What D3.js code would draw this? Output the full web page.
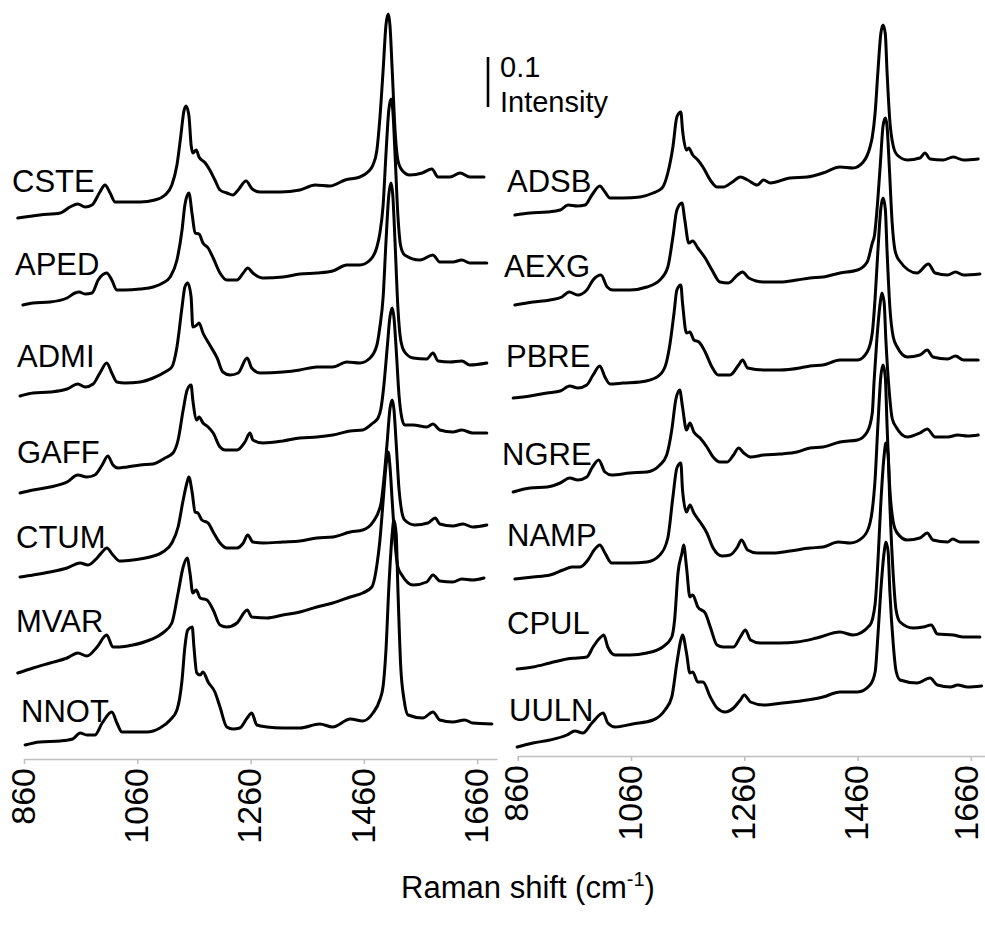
<!DOCTYPE html>
<html><head><meta charset="utf-8">
<script src="https://cdn.jsdelivr.net/npm/d3@7"></script>
<style>html,body{margin:0;padding:0;background:#fff;} svg{display:block;}</style>
</head><body><svg id="chart" width="985" height="932"></svg>
<script>
// ---------------- DATA ----------------
const wavenumberTicks = [860, 1060, 1260, 1460, 1660];
const leftNames  = ["CSTE","APED","ADMI","GAFF","CTUM","MVAR","NNOT"];
const rightNames = ["ADSB","AEXG","PBRE","NGRE","NAMP","CPUL","UULN"];
// vertical stacking offsets (intensity units)
const leftOffsets  = [1.082, 0.908, 0.726, 0.532, 0.364, 0.172, 0.028];
const rightOffsets = [1.088, 0.908, 0.722, 0.534, 0.360, 0.180, 0.024];
const scaleBarValue = 0.1;

// spectra: [Raman shift (cm-1), relative intensity]
const CSTE = [[849,0],[888,.006],[924,.010],[941,.022],[955,.028],[968,.022],[980,.026],[994,.052],[1003,.066],[1012,.050],[1021,.032],[1038,.032],[1065,.032],[1091,.036],[1109,.046],[1121,.066],[1130,.106],[1137,.166],[1142,.212],[1146,.224],[1151,.206],[1155,.146],[1158,.130],[1164,.136],[1169,.122],[1180,.110],[1188,.096],[1197,.076],[1206,.056],[1218,.050],[1229,.046],[1238,.056],[1252,.074],[1263,.058],[1277,.052],[1312,.052],[1347,.056],[1374,.066],[1400,.064],[1427,.076],[1453,.082],[1467,.092],[1476,.106],[1483,.136],[1488,.196],[1494,.296],[1499,.386],[1503,.408],[1506,.386],[1510,.296],[1515,.176],[1520,.116],[1527,.096],[1541,.086],[1563,.090],[1580,.098],[1591,.082],[1612,.082],[1630,.090],[1647,.082],[1672,.082]];
const APED = [[858,0],[876,.004],[906,.006],[936,.014],[950,.024],[957,.026],[968,.022],[980,.024],[991,.050],[1006,.064],[1015,.050],[1024,.030],[1038,.030],[1065,.032],[1088,.036],[1105,.044],[1118,.056],[1130,.090],[1139,.150],[1144,.200],[1151,.224],[1157,.180],[1162,.144],[1169,.142],[1176,.124],[1185,.114],[1194,.094],[1206,.064],[1218,.050],[1236,.050],[1247,.064],[1255,.074],[1264,.064],[1282,.054],[1317,.056],[1347,.062],[1377,.064],[1405,.068],[1430,.080],[1453,.080],[1471,.090],[1483,.116],[1488,.142],[1494,.200],[1499,.302],[1504,.390],[1508,.412],[1511,.390],[1515,.302],[1520,.180],[1525,.118],[1532,.100],[1559,.090],[1582,.100],[1594,.086],[1617,.086],[1633,.090],[1647,.084],[1677,.084]];
const ADMI = [[853,0],[876,.006],[906,.008],[936,.014],[955,.024],[968,.018],[982,.024],[994,.046],[1006,.066],[1015,.046],[1024,.028],[1038,.026],[1065,.028],[1088,.036],[1109,.048],[1121,.058],[1130,.098],[1139,.178],[1144,.218],[1149,.226],[1155,.198],[1158,.138],[1165,.142],[1169,.146],[1176,.126],[1188,.102],[1201,.076],[1211,.048],[1224,.042],[1238,.046],[1254,.076],[1262,.056],[1277,.046],[1317,.048],[1347,.052],[1377,.058],[1405,.058],[1430,.068],[1453,.066],[1471,.076],[1483,.102],[1488,.136],[1494,.198],[1499,.308],[1504,.402],[1508,.426],[1511,.402],[1515,.308],[1520,.178],[1525,.112],[1532,.088],[1547,.076],[1571,.074],[1582,.086],[1591,.070],[1612,.068],[1633,.070],[1647,.062],[1677,.066]];
const GAFF = [[853,0],[876,.006],[906,.012],[936,.022],[955,.036],[971,.032],[985,.036],[998,.056],[1008,.074],[1017,.056],[1026,.050],[1042,.052],[1065,.056],[1088,.058],[1109,.070],[1123,.080],[1132,.106],[1141,.166],[1148,.206],[1155,.216],[1158,.186],[1165,.146],[1169,.152],[1176,.140],[1185,.132],[1194,.120],[1206,.092],[1215,.086],[1236,.086],[1250,.102],[1259,.120],[1264,.106],[1282,.100],[1317,.104],[1347,.110],[1377,.112],[1405,.116],[1436,.124],[1458,.126],[1476,.140],[1485,.150],[1490,.168],[1495,.212],[1501,.288],[1506,.352],[1510,.370],[1513,.352],[1517,.288],[1522,.196],[1527,.150],[1532,.136],[1547,.136],[1571,.132],[1582,.138],[1594,.126],[1617,.122],[1633,.126],[1652,.120],[1677,.120]];
const CTUM = [[853,0],[876,.004],[906,.010],[936,.018],[959,.028],[973,.024],[989,.038],[998,.050],[1006,.058],[1017,.044],[1029,.032],[1052,.034],[1082,.040],[1105,.050],[1121,.068],[1132,.100],[1141,.154],[1148,.190],[1151,.200],[1157,.168],[1162,.130],[1167,.128],[1174,.114],[1185,.108],[1194,.090],[1206,.068],[1218,.058],[1236,.058],[1247,.068],[1255,.084],[1264,.070],[1282,.068],[1317,.070],[1347,.072],[1377,.078],[1405,.080],[1436,.090],[1458,.094],[1476,.110],[1490,.146],[1495,.192],[1501,.268],[1506,.336],[1510,.354],[1513,.336],[1517,.268],[1522,.176],[1527,.130],[1532,.114],[1550,.104],[1573,.108],[1586,.118],[1594,.106],[1617,.102],[1635,.106],[1652,.100],[1677,.104]];
const MVAR = [[849,0],[876,.010],[906,.020],[936,.030],[955,.040],[971,.034],[989,.052],[1006,.076],[1017,.052],[1029,.052],[1052,.056],[1082,.066],[1105,.080],[1121,.100],[1132,.160],[1141,.212],[1148,.230],[1153,.200],[1158,.160],[1164,.166],[1171,.150],[1183,.146],[1194,.126],[1206,.096],[1218,.092],[1236,.100],[1254,.126],[1262,.112],[1289,.110],[1317,.116],[1347,.122],[1377,.132],[1405,.140],[1436,.152],[1458,.160],[1474,.172],[1483,.216],[1488,.262],[1494,.344],[1499,.414],[1503,.442],[1506,.414],[1510,.344],[1515,.260],[1520,.212],[1527,.196],[1547,.176],[1571,.182],[1582,.196],[1594,.184],[1617,.182],[1633,.188],[1652,.186],[1672,.190]];
const NNOT = [[862,0],[888,.006],[924,.008],[946,.012],[959,.024],[971,.020],[985,.020],[998,.044],[1015,.066],[1024,.044],[1033,.026],[1052,.026],[1077,.026],[1100,.034],[1118,.050],[1130,.070],[1139,.130],[1144,.196],[1149,.230],[1157,.236],[1160,.196],[1165,.144],[1171,.140],[1176,.146],[1185,.126],[1197,.106],[1206,.076],[1218,.036],[1229,.032],[1241,.034],[1254,.054],[1262,.064],[1271,.040],[1289,.036],[1317,.034],[1347,.034],[1382,.042],[1405,.036],[1436,.052],[1458,.048],[1476,.064],[1488,.090],[1494,.118],[1499,.190],[1504,.314],[1510,.422],[1513,.450],[1517,.422],[1520,.314],[1525,.158],[1531,.090],[1538,.060],[1564,.054],[1582,.066],[1594,.050],[1617,.046],[1638,.050],[1652,.044],[1686,.042]];

const ADSB = [[855,0],[882,.004],[912,.006],[935,.010],[949,.020],[965,.018],[979,.020],[991,.040],[1005,.058],[1014,.046],[1023,.034],[1046,.034],[1076,.036],[1099,.044],[1115,.054],[1125,.084],[1134,.136],[1141,.196],[1148,.206],[1151,.170],[1158,.130],[1162,.134],[1169,.120],[1178,.110],[1187,.096],[1200,.070],[1212,.056],[1223,.056],[1239,.066],[1253,.076],[1266,.070],[1283,.060],[1294,.070],[1306,.064],[1341,.074],[1371,.076],[1399,.084],[1429,.096],[1452,.094],[1470,.106],[1482,.136],[1486,.156],[1491,.204],[1496,.288],[1501,.362],[1505,.380],[1509,.362],[1512,.288],[1517,.188],[1523,.138],[1530,.120],[1548,.110],[1570,.114],[1579,.124],[1588,.112],[1611,.110],[1629,.116],[1647,.110],[1673,.112]];
const AEXG = [[855,0],[887,.006],[917,.010],[938,.016],[951,.026],[966,.020],[982,.030],[993,.050],[1007,.060],[1018,.036],[1028,.030],[1058,.030],[1088,.036],[1111,.050],[1125,.076],[1134,.136],[1141,.190],[1150,.204],[1155,.170],[1162,.124],[1169,.128],[1178,.114],[1191,.094],[1203,.070],[1217,.046],[1232,.044],[1248,.060],[1257,.066],[1268,.054],[1294,.046],[1323,.046],[1353,.050],[1376,.054],[1399,.056],[1429,.064],[1460,.070],[1477,.086],[1486,.124],[1490,.140],[1494,.186],[1500,.278],[1505,.358],[1509,.374],[1512,.358],[1516,.278],[1521,.166],[1526,.110],[1533,.090],[1565,.064],[1585,.082],[1597,.064],[1619,.060],[1633,.066],[1647,.060],[1676,.062]];
const PBRE = [[852,0],[882,.004],[912,.010],[935,.014],[952,.024],[966,.020],[982,.026],[993,.046],[1005,.064],[1014,.042],[1023,.028],[1046,.030],[1076,.032],[1106,.042],[1120,.062],[1128,.102],[1136,.170],[1141,.216],[1148,.226],[1151,.190],[1158,.130],[1164,.132],[1171,.116],[1180,.112],[1191,.092],[1203,.062],[1214,.046],[1235,.046],[1250,.066],[1257,.076],[1266,.060],[1294,.056],[1323,.056],[1358,.060],[1376,.064],[1399,.066],[1429,.076],[1460,.076],[1477,.092],[1486,.130],[1491,.200],[1496,.296],[1501,.378],[1505,.400],[1509,.378],[1512,.296],[1517,.182],[1523,.122],[1530,.102],[1548,.082],[1570,.086],[1583,.096],[1593,.082],[1619,.078],[1633,.084],[1647,.076],[1673,.076]];
const NGRE = [[852,0],[882,.008],[912,.010],[935,.018],[952,.028],[966,.024],[982,.030],[991,.048],[1003,.064],[1014,.040],[1026,.034],[1058,.038],[1088,.040],[1111,.054],[1123,.074],[1132,.124],[1139,.184],[1146,.204],[1151,.170],[1158,.124],[1164,.138],[1171,.120],[1182,.108],[1194,.090],[1205,.070],[1217,.060],[1230,.060],[1241,.074],[1250,.088],[1259,.078],[1271,.070],[1294,.074],[1323,.076],[1353,.080],[1376,.088],[1399,.090],[1429,.100],[1460,.104],[1477,.120],[1486,.158],[1489,.218],[1494,.304],[1500,.378],[1503,.398],[1507,.378],[1510,.304],[1516,.200],[1521,.148],[1528,.130],[1548,.110],[1570,.118],[1583,.126],[1597,.110],[1619,.110],[1637,.114],[1654,.112],[1673,.114]];
const NAMP = [[855,0],[887,.004],[917,.008],[940,.018],[956,.024],[970,.024],[984,.038],[995,.058],[1005,.068],[1014,.052],[1026,.032],[1058,.032],[1088,.034],[1111,.048],[1125,.082],[1134,.164],[1141,.222],[1148,.232],[1151,.178],[1158,.134],[1164,.148],[1171,.132],[1182,.114],[1194,.092],[1205,.062],[1221,.046],[1235,.048],[1248,.064],[1255,.078],[1266,.058],[1283,.052],[1311,.052],[1341,.056],[1376,.062],[1399,.064],[1426,.074],[1447,.072],[1470,.084],[1482,.112],[1486,.138],[1491,.200],[1496,.310],[1501,.404],[1505,.428],[1509,.404],[1512,.310],[1517,.180],[1523,.114],[1530,.092],[1548,.078],[1570,.082],[1583,.092],[1593,.078],[1619,.074],[1628,.080],[1641,.074],[1673,.074]];
const CPUL = [[859,0],[887,.004],[917,.012],[947,.020],[965,.022],[982,.024],[993,.044],[1005,.062],[1012,.068],[1019,.044],[1032,.028],[1058,.028],[1088,.032],[1116,.044],[1132,.064],[1137,.098],[1143,.192],[1150,.232],[1153,.248],[1158,.204],[1164,.144],[1169,.148],[1178,.124],[1191,.112],[1200,.084],[1212,.048],[1223,.044],[1241,.044],[1253,.064],[1262,.078],[1271,.058],[1288,.052],[1323,.052],[1353,.054],[1388,.062],[1429,.074],[1452,.068],[1482,.088],[1491,.130],[1496,.216],[1501,.330],[1507,.428],[1510,.452],[1514,.428],[1517,.330],[1523,.188],[1528,.118],[1535,.094],[1558,.082],[1576,.084],[1590,.088],[1601,.070],[1629,.068],[1647,.064],[1676,.064]];
const UULN = [[859,0],[887,.008],[917,.014],[947,.024],[961,.032],[975,.028],[991,.048],[1011,.068],[1019,.048],[1032,.040],[1063,.046],[1099,.054],[1120,.074],[1132,.100],[1141,.168],[1148,.214],[1151,.224],[1158,.188],[1164,.148],[1169,.150],[1178,.130],[1187,.130],[1200,.100],[1212,.078],[1226,.070],[1241,.078],[1253,.094],[1260,.104],[1271,.090],[1294,.084],[1328,.088],[1371,.094],[1399,.100],[1429,.110],[1460,.110],[1482,.124],[1491,.150],[1496,.224],[1501,.312],[1507,.390],[1510,.410],[1514,.390],[1517,.312],[1523,.206],[1528,.152],[1535,.134],[1565,.128],[1588,.138],[1601,.124],[1624,.120],[1637,.124],[1654,.120],[1679,.122]];

const spectra = {CSTE, APED, ADMI, GAFF, CTUM, MVAR, NNOT, ADSB, AEXG, PBRE, NGRE, NAMP, CPUL, UULN};

// ---------------- LAYOUT ----------------
const FONT = '"Liberation Sans", Arial, Helvetica, sans-serif';
const svg = d3.select("#chart");
const y = d3.scaleLinear().domain([0, 1.518]).range([759, 0]);

const panels = [
  { names: leftNames, offsets: leftOffsets, axisY: 759,
    x: d3.scaleLinear().domain([860, 1695]).range([24, 497]),
    labelPos: [[12,192],[15,275],[17,367],[17,463],[16,548],[16,632],[21,722]] },
  { names: rightNames, offsets: rightOffsets, axisY: 756,
    x: d3.scaleLinear().domain([860, 1685]).range([517.7, 985]),
    labelPos: [[507,192],[504,277],[506,367],[502,465],[507,546],[507,634],[509,721]] }
];

panels.forEach((p, pi) => {
  // axis
  const axis = d3.axisBottom(p.x).tickValues(wavenumberTicks)
    .tickSizeInner(5).tickSizeOuter(0).tickFormat(d3.format("d"));
  const g = svg.append("g").attr("transform", `translate(0,${p.axisY})`).call(axis)
    .attr("font-size", 34).attr("font-family", FONT);
  g.select(".domain").attr("stroke", "#c0c0c0").attr("stroke-width", 1.6);
  g.selectAll(".tick line").attr("stroke", "#c0c0c0").attr("stroke-width", 1.6);
  g.selectAll(".tick text").attr("fill", "#000")
    .attr("transform", "rotate(-90)").attr("text-anchor", "end")
    .attr("x", -9).attr("y", 0)
    .attr("dy", (d, i, n) => (pi === 1 && i === n.length - 1) ? "0.2em" : "0.3em");

  // spectra
  p.names.forEach((name, i) => {
    const off = p.offsets[i];
    const line = d3.line()
      .x(d => p.x(d[0]))
      .y(d => y(off + d[1]))
      .curve(d3.curveMonotoneX);
    svg.append("path").datum(spectra[name])
      .attr("d", line).attr("fill", "none").attr("stroke", "#000")
      .attr("stroke-width", 3).attr("stroke-linejoin", "round").attr("stroke-linecap", "round");
    svg.append("text").attr("x", p.labelPos[i][0]).attr("y", p.labelPos[i][1])
      .attr("font-family", FONT).attr("font-size", 31).attr("fill", "#000").text(name);
  });
});

// scale bar
const barBase = 1.304;
svg.append("line").attr("x1", 488).attr("x2", 488)
  .attr("y1", y(barBase)).attr("y2", y(barBase + scaleBarValue))
  .attr("stroke", "#000").attr("stroke-width", 2.6);
svg.append("text").attr("x", 500).attr("y", 77).attr("font-family", FONT).attr("font-size", 29).text(String(scaleBarValue));
svg.append("text").attr("x", 500).attr("y", 112).attr("font-family", FONT).attr("font-size", 29).text("Intensity");

// x title
const title = svg.append("text").attr("x", 528).attr("y", 898).attr("text-anchor", "middle")
  .attr("font-family", FONT).attr("font-size", 31).attr("fill", "#000");
title.append("tspan").text("Raman shift (cm");
title.append("tspan").attr("font-size", 20).attr("dy", -12).text("-1");
title.append("tspan").attr("font-size", 31).attr("dy", 12).text(")");
</script>
</body></html>
